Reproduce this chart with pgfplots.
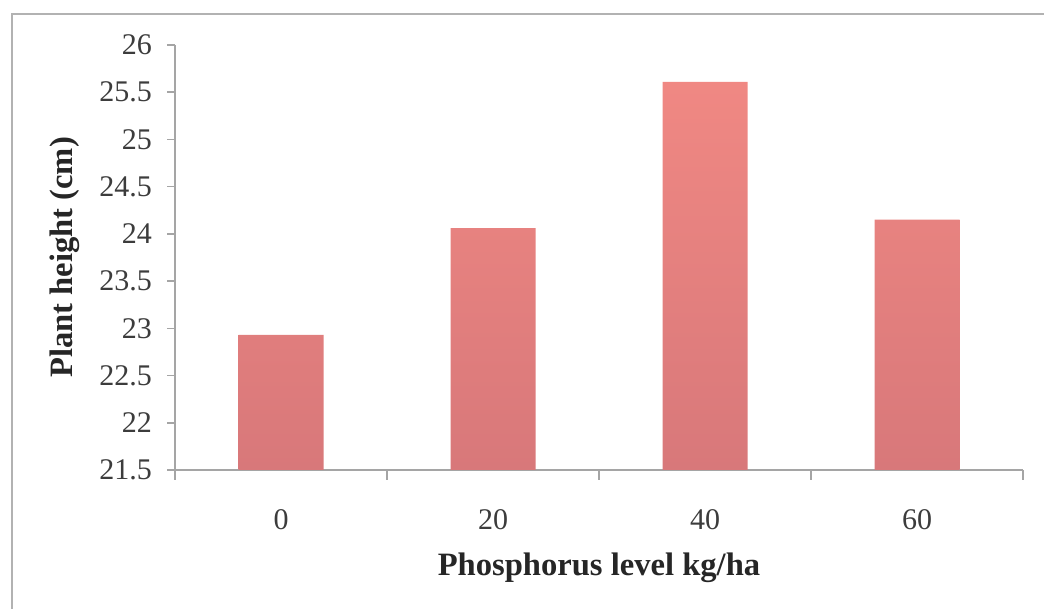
\documentclass[border=0pt]{standalone}
\usepackage{fontspec}
\setmainfont{Liberation Serif}
\usepackage{pgfplots}
\pgfplotsset{compat=1.18}

\definecolor{barTop}{RGB}{240,136,131}
\definecolor{barBot}{RGB}{216,120,122}
\definecolor{spine}{RGB}{165,165,165}
\definecolor{frameGray}{RGB}{178,178,178}
\definecolor{tickText}{RGB}{60,60,60}

\pgfplotstableread{
x  height
0  22.93
1  24.06
2  25.61
3  24.15
}\heights

\begin{document}
\begin{tikzpicture}
  \useasboundingbox (0,0) rectangle (522pt,304.5pt);
  % outer chart frame
  \draw[frameGray, line width=1.2pt] (6pt,-5pt) -- (6pt,297.5pt) -- (530pt,297.5pt);
  \begin{axis}[
    at={(87.5pt,69.5pt)}, anchor=south west,
    scale only axis, width=424pt, height=212.5pt,
    xmin=-0.5, xmax=3.5, ymin=21.5, ymax=26,
    axis x line*=bottom, axis y line*=left,
    axis line style={spine, line width=0.8pt, -},
    xtick={0,1,2,3}, xticklabels={0,20,40,60},
    minor xtick={-0.5,0.5,1.5,2.5,3.5},
    ytick={21.5,22,...,26},
    yticklabel style={/pgf/number format/fixed, /pgf/number format/precision=1, xshift=-4pt},
    major x tick style={draw=none},
    minor x tick style={spine, line width=0.8pt},
    minor tick length=5pt,
    y tick style={spine, line width=0.8pt},
    major tick length=4pt,
    tick align=outside,
    /pgf/number format/assume math mode=true,
    ticklabel style={font=\fontsize{15}{16}\selectfont, text=tickText},
    xticklabel style={yshift=-12pt},
    xlabel={\textbf{Phosphorus level kg/ha}},
    ylabel={\textbf{Plant height (cm)}},
    label style={font=\fontsize{16.3}{18}\selectfont, text=black!85},
    xlabel style={at={(axis description cs:0.5,0)}, anchor=center, yshift=-49pt},
    ylabel style={at={(axis description cs:0,0.5)}, anchor=center, rotate=0, yshift=55pt},
    ybar, bar width=42.5pt,
    clip=false,
  ]
    \addplot[draw=none, top color=barTop, bottom color=barBot] table[x=x, y=height] {\heights};
  \end{axis}
\end{tikzpicture}
\end{document}
